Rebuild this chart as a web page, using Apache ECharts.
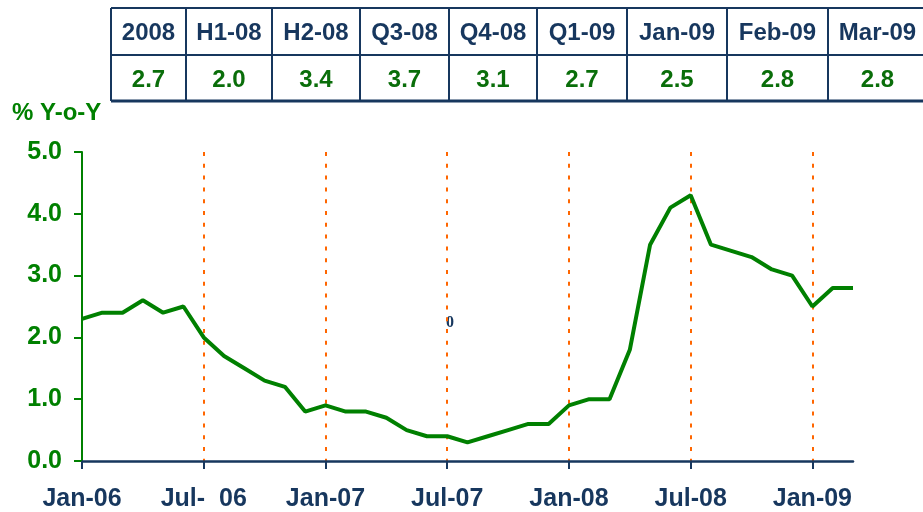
<!DOCTYPE html>
<html>
<head>
<meta charset="utf-8">
<title>% Y-o-Y</title>
<script src="https://cdn.jsdelivr.net/npm/echarts@6/dist/echarts.min.js"></script>
<style>
  html, body { margin: 0; padding: 0; background: #fff; }
  #main { width: 923px; height: 512px; }
</style>
</head>
<body>
<div id="main"></div>
<script>
// monthly series, Jan-06 .. Mar-09
const months = [
  'Jan-06', 'Feb-06', 'Mar-06', 'Apr-06', 'May-06', 'Jun-06',
  'Jul-06', 'Aug-06', 'Sep-06', 'Oct-06', 'Nov-06', 'Dec-06',
  'Jan-07', 'Feb-07', 'Mar-07', 'Apr-07', 'May-07', 'Jun-07',
  'Jul-07', 'Aug-07', 'Sep-07', 'Oct-07', 'Nov-07', 'Dec-07',
  'Jan-08', 'Feb-08', 'Mar-08', 'Apr-08', 'May-08', 'Jun-08',
  'Jul-08', 'Aug-08', 'Sep-08', 'Oct-08', 'Nov-08', 'Dec-08',
  'Jan-09', 'Feb-09', 'Mar-09'
];
const yoy = [
  2.3, 2.4, 2.4, 2.6, 2.4, 2.5, 2.0, 1.7, 1.5, 1.3, 1.2, 0.8,
  0.9, 0.8, 0.8, 0.7, 0.5, 0.4, 0.4, 0.3, 0.4, 0.5, 0.6, 0.6,
  0.9, 1.0, 1.0, 1.8, 3.5, 4.1, 4.3, 3.5, 3.4, 3.3, 3.1, 3.0,
  2.5, 2.8, 2.8
];
const tickLabels = ['Jan-06', 'Jul-  06', 'Jan-07', 'Jul-07', 'Jan-08', 'Jul-08', 'Jan-09'];

// summary table
const periods = ['2008', 'H1-08', 'H2-08', 'Q3-08', 'Q4-08', 'Q1-09', 'Jan-09', 'Feb-09', 'Mar-09'];
const periodValues = [2.7, 2.0, 3.4, 3.7, 3.1, 2.7, 2.5, 2.8, 2.8];

// table layout (pixels)
const colEdges = [111, 186, 272, 360, 449, 537, 627, 727, 828, 927];
const rowTop = 8, rowMid = 55, rowBottom = 101;
const navy = '#17375e';
const green = '#008000';
const boldFont = '"Liberation Sans", Arial, sans-serif';

const graphics = [];
function hline(y, w) {
  graphics.push({ type: 'line', shape: { x1: colEdges[0], y1: y, x2: colEdges[colEdges.length - 1], y2: y },
    style: { stroke: navy, lineWidth: w } });
}
hline(rowTop, 2);
hline(rowMid, 2);
hline(rowBottom, 3);
colEdges.forEach(function (x) {
  graphics.push({ type: 'line', shape: { x1: x, y1: rowTop, x2: x, y2: rowBottom },
    style: { stroke: navy, lineWidth: 2 } });
});
periods.forEach(function (p, i) {
  const cx = (colEdges[i] + colEdges[i + 1]) / 2;
  graphics.push({ type: 'text', x: cx, y: 33,
    style: { text: p, fill: navy, font: 'bold 24px ' + boldFont,
      align: 'center', verticalAlign: 'middle', textAlign: 'center', textVerticalAlign: 'middle' } });
  graphics.push({ type: 'text', x: cx, y: 80,
    style: { text: periodValues[i].toFixed(1), fill: '#0a6e0a', font: 'bold 24px ' + boldFont,
      align: 'center', verticalAlign: 'middle', textAlign: 'center', textVerticalAlign: 'middle' } });
});
// axis title
graphics.push({ type: 'text', x: 12, y: 113,
  style: { text: '% Y-o-Y', fill: green, font: 'bold 24px ' + boldFont,
    align: 'left', verticalAlign: 'middle', textAlign: 'left', textVerticalAlign: 'middle' } });
// stray mark in the source
graphics.push({ type: 'text', x: 450, y: 323,
  style: { text: '0', fill: navy, font: 'bold 16px "Liberation Serif", serif',
    align: 'center', verticalAlign: 'middle', textAlign: 'center', textVerticalAlign: 'middle' } });

const chart = echarts.init(document.getElementById('main'));

const option = {
  animation: false,
  backgroundColor: '#fff',
  grid: { left: 82, right: 70, top: 152, bottom: 50 },
  xAxis: {
    type: 'category',
    data: months,
    boundaryGap: false,
    axisLine: { lineStyle: { color: navy, width: 2.5 } },
    axisTick: { show: true, interval: 5, length: 8, lineStyle: { color: navy, width: 2 } },
    axisLabel: {
      interval: 5,
      margin: 26,
      color: navy,
      fontFamily: 'Liberation Sans',
      fontWeight: 'bold',
      fontSize: 25,
      formatter: function (val, idx) { return tickLabels[Math.round(idx / 6)]; }
    },
    splitLine: {
      show: true,
      interval: function (idx) { return idx > 0 && idx % 6 === 0; },
      lineStyle: { color: '#ff6600', width: 2, type: [4, 7.8] }
    }
  },
  yAxis: {
    type: 'value',
    min: 0,
    max: 5,
    interval: 1,
    axisLine: { show: true, lineStyle: { color: green, width: 2 } },
    axisTick: { show: true, length: 8, lineStyle: { color: green, width: 2 } },
    axisLabel: {
      margin: 20,
      color: green,
      fontFamily: 'Liberation Sans',
      fontWeight: 'bold',
      fontSize: 25,
      formatter: function (v) { return v.toFixed(1); }
    },
    splitLine: { show: false }
  },
  series: [{
    type: 'line',
    data: yoy,
    symbol: 'none',
    lineStyle: { color: green, width: 4 },
    z: 5
  }],
  graphic: graphics
};

chart.setOption(option);
</script>
</body>
</html>
